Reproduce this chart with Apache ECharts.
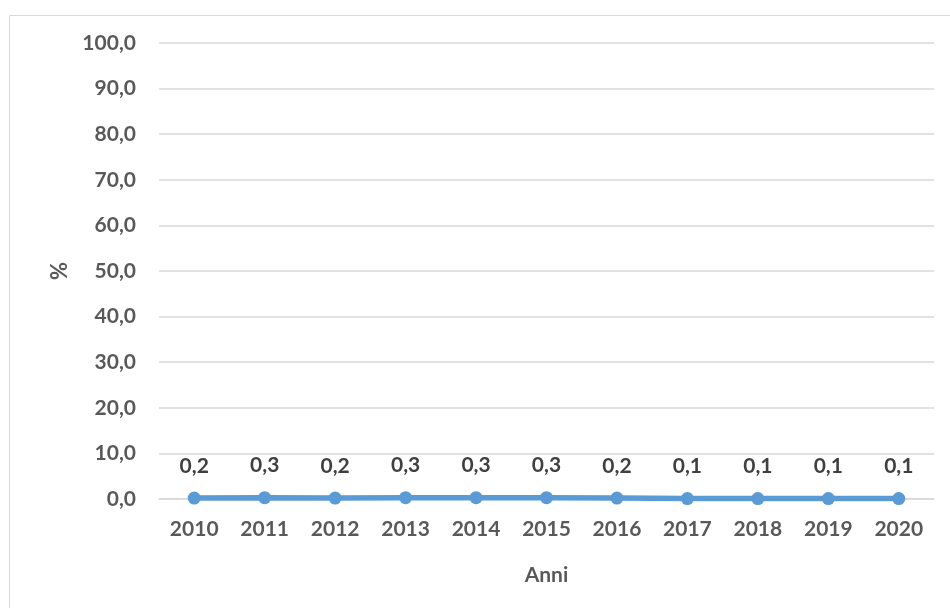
<!DOCTYPE html>
<html>
<head>
<meta charset="utf-8">
<script src="https://cdn.jsdelivr.net/npm/echarts@6/dist/echarts.min.js"></script>
<style>
  html, body { margin: 0; padding: 0; background: #fff; }
  #chart { width: 950px; height: 608px; }
</style>
</head>
<body>
<div id="chart"></div>
<script>
// data
var anni = ['2010', '2011', '2012', '2013', '2014', '2015', '2016', '2017', '2018', '2019', '2020']
var valori = [0.2, 0.3, 0.2, 0.3, 0.3, 0.3, 0.2, 0.1, 0.1, 0.1, 0.1]

var fmt = function (v) { return Number(v).toFixed(1).replace('.', ',') }
var font = 'Lato, "Open Sans", sans-serif'

var chart = echarts.init(document.getElementById('chart'))
chart.setOption({
  animation: false,
  graphic: [{
    type: 'rect',
    shape: { x: 9.5, y: 15.5, width: 980, height: 640 },
    style: { fill: 'none', stroke: '#d9d9d9', lineWidth: 1 }
  }],
  grid: { left: 159, right: 16, top: 43, bottom: 109 },
  xAxis: {
    type: 'category',
    data: anni,
    name: 'Anni',
    nameLocation: 'middle',
    nameGap: 66,
    nameTextStyle: { color: '#595959', fontFamily: font, fontWeight: 'bold', fontSize: 21 },
    axisLine: { show: true, lineStyle: { color: '#d9d9d9', width: 1.5 } },
    axisTick: { show: false },
    axisLabel: { color: '#595959', fontFamily: font, fontWeight: 'bold', fontSize: 21, margin: 20 }
  },
  yAxis: {
    type: 'value',
    min: 0,
    max: 100,
    interval: 10,
    name: '%',
    nameLocation: 'middle',
    nameRotate: 90,
    nameGap: 88,
    nameTextStyle: { color: '#595959', fontFamily: font, fontWeight: 'bold', fontSize: 22 },
    axisLine: { show: false },
    axisTick: { show: false },
    splitLine: { lineStyle: { color: '#d9d9d9', width: 1.5 } },
    axisLabel: { color: '#595959', fontFamily: font, fontWeight: 'bold', fontSize: 21, margin: 23, formatter: fmt }
  },
  series: [{
    type: 'line',
    data: valori,
    symbol: 'circle',
    symbolSize: 13,
    lineStyle: { color: '#5b9bd5', width: 5.5 },
    itemStyle: { color: '#5b9bd5' },
    label: {
      show: true,
      position: 'top',
      distance: 15,
      color: '#404040',
      fontFamily: font,
      fontWeight: 'bold',
      fontSize: 21,
      formatter: function (p) { return fmt(p.value) }
    }
  }]
})
</script>
</body>
</html>
